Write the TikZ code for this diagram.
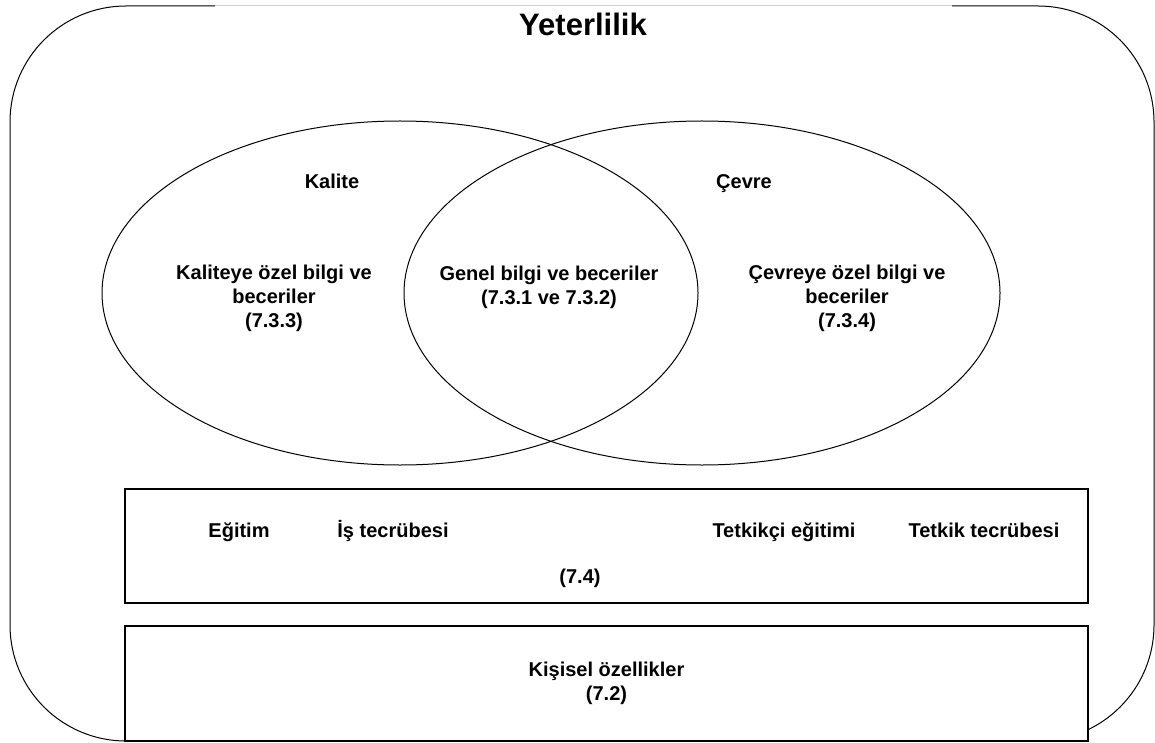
\documentclass[tikz,border=0pt]{standalone}
\usepackage{fontspec}
\setmainfont{Liberation Sans}
\usetikzlibrary{shapes.geometric,positioning}

\begin{document}
\begin{tikzpicture}[x=0.5pt,y=-0.5pt,font=\fontsize{10}{12}\selectfont\bfseries,line width=0.5pt]
  \tikzstyle{set}=[draw,ellipse,inner sep=0pt,minimum width=298pt,minimum height=172pt]
  \tikzstyle{band}=[draw,fill=white,line width=0.7pt,inner sep=0pt,minimum width=481.5pt,align=center]
  \tikzstyle{lbl}=[align=center,inner sep=0pt,anchor=base]
  \useasboundingbox (0,0) rectangle (1155,743);
  % outer frame
  \draw[rounded corners=58pt] (215,6) -- (10,6) -- (10,741) -- (1154,741) -- (1154,6) -- (952,6);
  \draw[gray!35] (215,6) -- (952,6);
  \node[lbl,font=\fontsize{15.5}{18}\selectfont\bfseries] (baslik) at (583,36) {Yeterlilik};
  % the two sets
  \node[set] (kalite) at (400,293) {};
  \node[set] (cevre) at (702,293) {};
  \node[lbl] (kaliteadi) at (332,189) {Kalite};
  \node[lbl] (cevreadi) at (744,189) {Çevre};
  \node[lbl] (kaliteozel) at (274,327) {Kaliteye özel bilgi ve\\beceriler\\(7.3.3)};
  \node[lbl] (genel) at (549,304) {Genel bilgi ve beceriler\\(7.3.1 ve 7.3.2)};
  \node[lbl] (cevreozel) at (847,327) {Çevreye özel bilgi ve\\beceriler\\(7.3.4)};
  % bands
  \node[band,minimum height=57pt] (tecrube) at (606.5,546) {};
  \node[lbl] (egitim) at (239,537) {Eğitim};
  \node[lbl] (is) at (393,537) {İş tecrübesi};
  \node[lbl] (tetkikci) at (784,537) {Tetkikçi eğitimi};
  \node[lbl] (tetkik) at (984,537) {Tetkik tecrübesi};
  \node[lbl] (yedidort) at (580,583) {(7.4)};
  \node[band,minimum height=57.5pt] (kisisel) at (606.5,683.5) {Kişisel özellikler\\(7.2)};
\end{tikzpicture}
\end{document}
